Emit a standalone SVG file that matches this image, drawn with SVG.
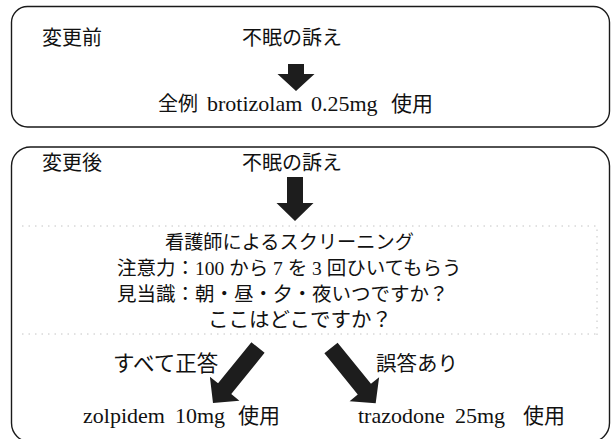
<svg xmlns="http://www.w3.org/2000/svg" width="611" height="439" viewBox="0 0 611 439">
<style>
.box{fill:none;stroke:#1a1a1a;stroke-width:1.4}
.dot{fill:none;stroke:#c4c4c4;stroke-width:1;stroke-dasharray:1.5 5}
text{font-family:"Liberation Serif","Noto Sans CJK JP",serif;font-size:20px;fill:#111}
.lat{font-size:22px}
.arr{fill:#1d1d1d}
</style>
<g id="before">
<rect class="box" x="11.5" y="6.5" width="598" height="120.5" rx="16"/>
<text x="42" y="45">変更前</text>
<text x="242" y="45">不眠の訴え</text>
<text y="111"><tspan x="158">全例</tspan><tspan class="lat" x="207">brotizolam</tspan><tspan class="lat" x="311">0.25mg</tspan><tspan x="391" style="font-size:21px">使用</tspan></text>
</g>
<g id="after">
<rect class="box" x="11.5" y="147" width="598" height="295" rx="19"/>
<path class="dot" d="M22 226 H597 V336 M22 334 H597"/>
<text x="42" y="170">変更後</text>
<text x="242" y="170">不眠の訴え</text>
<text x="165" y="249" style="font-size:19.2px">看護師によるスクリーニング</text>
<text x="117" y="275" style="font-size:19.5px">注意力：100 から 7 を 3 回ひいてもらう</text>
<text x="117" y="301" style="font-size:19.5px">見当識：朝・昼・夕・夜いつですか？</text>
<text x="208" y="327" style="font-size:20.5px">ここはどこですか？</text>
<text x="113" y="371" style="font-size:21.5px">すべて正答</text>
<text x="376" y="371" style="font-size:20.5px">誤答あり</text>
<text y="423"><tspan class="lat" x="83">zolpidem</tspan><tspan class="lat" x="175">10mg</tspan><tspan x="238" style="font-size:21px">使用</tspan></text>
<text y="423"><tspan class="lat" x="358">trazodone</tspan><tspan class="lat" x="455">25mg</tspan><tspan x="523" style="font-size:21px">使用</tspan></text>
</g>
<g id="connectors">
<polygon class="arr" points="288,64 304,64 304,74 314.5,74 296,91 277.5,74 288,74"/>
<polygon class="arr" points="287,177 303,177 303,203 313.5,203 295,221 276.5,203 287,203"/>
<g transform="translate(258,347.5) rotate(39)"><polygon class="arr" points="-8.5,0 8.5,0 8.5,53 19,53 0,71.5 -19,53 -8.5,53"/></g>
<g transform="translate(331,348) rotate(-39)"><polygon class="arr" points="-8.5,0 8.5,0 8.5,53 19,53 0,71 -19,53 -8.5,53"/></g>
</g>
</svg>
